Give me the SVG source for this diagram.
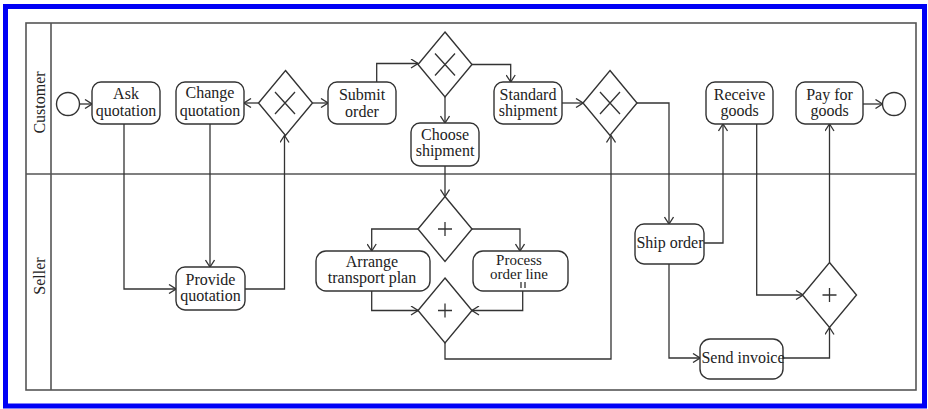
<svg xmlns="http://www.w3.org/2000/svg" width="928" height="409" viewBox="0 0 928 409">
  <style>
    .pool { fill: none; stroke: #555; stroke-width: 1.6; }
    .task { fill: #fff; stroke: #333; stroke-width: 1.4; }
    .gw { fill: #fff; stroke: #333; stroke-width: 1.4; }
    .mark { fill: none; stroke: #333; stroke-width: 1.3; }
    .ev { fill: #fff; stroke: #333; stroke-width: 1.4; }
    .flow { fill: none; stroke: #333; stroke-width: 1.3; marker-end: url(#arrow); }
    text { font-family: "Liberation Serif", "Times New Roman", serif; font-size: 16px; fill: #222; text-anchor: middle; }
    .tight { font-size: 15px; }
  </style>
  <defs>
    <marker id="arrow" viewBox="0 0 9 10" refX="8" refY="5" markerWidth="9" markerHeight="10" markerUnits="userSpaceOnUse" orient="auto">
      <path d="M1,0.5 L8,5 L1,9.5" fill="none" stroke="#333" stroke-width="1.3"/>
    </marker>
  </defs>

  <rect x="0" y="0" width="928" height="409" fill="#fff"/>
  <!-- outer frame -->
  <rect x="5.5" y="6.5" width="919" height="399.5" fill="none" stroke="#0000f5" stroke-width="5"/>

  <!-- pool and lanes -->
  <g id="pool">
    <rect class="pool" x="26" y="23" width="890" height="367"/>
    <line class="pool" x1="51" y1="23" x2="51" y2="390"/>
    <line class="pool" x1="26" y1="174" x2="916" y2="174"/>
    <text transform="translate(45,102.5) rotate(-90)">Customer</text>
    <text transform="translate(45,276) rotate(-90)">Seller</text>
  </g>

  <!-- sequence flows -->
  <g id="connectors">
    <polyline class="flow" points="79.5,104 92,104"/>
    <polyline class="flow" points="124,124 124,289 176,289"/>
    <polyline class="flow" points="210,124 210,267"/>
    <polyline class="flow" points="245,289 284.5,289 284.5,135.5"/>
    <polyline class="flow" points="258.5,103 244,103"/>
    <polyline class="flow" points="312.5,103 328,103"/>
    <polyline class="flow" points="376.7,82 376.7,63.5 418,63.5"/>
    <polyline class="flow" points="445,97 445,123"/>
    <polyline class="flow" points="472,64.5 510.7,64.5 510.7,82"/>
    <polyline class="flow" points="562,103 583,103"/>
    <polyline class="flow" points="445,166 445,196.5"/>
    <polyline class="flow" points="418,229 371.7,229 371.7,251"/>
    <polyline class="flow" points="472,229 520,229 520,251"/>
    <polyline class="flow" points="371.7,291 371.7,310.5 418,310.5"/>
    <polyline class="flow" points="522.7,291 522.7,310.5 472,310.5"/>
    <polyline class="flow" points="445,343 445,359 611,359 611,135.5"/>
    <polyline class="flow" points="637,103 669,103 669,224"/>
    <polyline class="flow" points="704,243 723,243 723,124"/>
    <polyline class="flow" points="756.7,124 756.7,295 803,295"/>
    <polyline class="flow" points="669,264 669,358 700,358"/>
    <polyline class="flow" points="783,358 829.5,358 829.5,327.5"/>
    <polyline class="flow" points="829.5,262.5 829.5,124"/>
    <polyline class="flow" points="863,104 882.5,104"/>
  </g>

  <!-- customer lane -->
  <g id="start">
    <circle class="ev" cx="68" cy="104" r="11.5"/>
  </g>
  <g id="ask-quotation">
    <rect class="task" x="92" y="82" width="68" height="42" rx="9"/>
    <text x="126" y="99">Ask</text>
    <text x="126" y="115.5">quotation</text>
  </g>
  <g id="change-quotation">
    <rect class="task" x="176" y="82" width="68" height="42" rx="9"/>
    <text x="210" y="97.5">Change</text>
    <text x="210" y="115.5">quotation</text>
  </g>
  <g id="xor-quotation">
    <polygon class="gw" points="285.5,70.5 312.5,103 285.5,135.5 258.5,103"/>
    <path class="mark" d="M275,92 L295,114 M295,92 L275,114"/>
  </g>
  <g id="submit-order">
    <rect class="task" x="328" y="82" width="68" height="42" rx="9"/>
    <text x="362" y="100">Submit</text>
    <text x="362" y="116.5">order</text>
  </g>
  <g id="xor-shipment">
    <polygon class="gw" points="445,32 472,64.5 445,97 418,64.5"/>
    <path class="mark" d="M435,53.5 L455,75.5 M455,53.5 L435,75.5"/>
  </g>
  <g id="choose-shipment">
    <rect class="task" x="411" y="123" width="68" height="43" rx="9"/>
    <text x="445" y="140">Choose</text>
    <text x="445" y="155.5">shipment</text>
  </g>
  <g id="standard-shipment">
    <rect class="task" x="494" y="82" width="68" height="42" rx="9"/>
    <text x="528" y="100">Standard</text>
    <text x="528" y="116">shipment</text>
  </g>
  <g id="xor-merge">
    <polygon class="gw" points="610,70.5 637,103 610,135.5 583,103"/>
    <path class="mark" d="M600,92 L620,114 M620,92 L600,114"/>
  </g>
  <g id="receive-goods">
    <rect class="task" x="706" y="82" width="67" height="42" rx="9"/>
    <text x="739.5" y="100">Receive</text>
    <text x="739.5" y="115.5">goods</text>
  </g>
  <g id="pay-for-goods">
    <rect class="task" x="796" y="82" width="67" height="42" rx="9"/>
    <text x="829.5" y="100">Pay for</text>
    <text x="829.5" y="115.5">goods</text>
  </g>
  <g id="end">
    <circle class="ev" cx="894" cy="104" r="11.5"/>
  </g>

  <!-- seller lane -->
  <g id="provide-quotation">
    <rect class="task" x="176" y="267" width="69" height="43" rx="9"/>
    <text x="210.5" y="285">Provide</text>
    <text x="210.5" y="301">quotation</text>
  </g>
  <g id="and-split">
    <polygon class="gw" points="445,196.5 472,229 445,261.5 418,229"/>
    <path class="mark" d="M438,229 L452,229 M445,222 L445,236"/>
  </g>
  <g id="arrange-transport-plan">
    <rect class="task" x="316" y="251" width="114" height="40" rx="10"/>
    <text x="372" y="267">Arrange</text>
    <text x="372" y="283">transport plan</text>
  </g>
  <g id="process-order-line">
    <rect class="task" x="473" y="251" width="95" height="40" rx="10"/>
    <text class="tight" x="519" y="264.5">Process</text>
    <text class="tight" x="519" y="279">order line</text>
    <path class="mark" d="M521,282 L521,288 M525,282 L525,288" stroke-width="1"/>
  </g>
  <g id="and-join">
    <polygon class="gw" points="445,278 472,310.5 445,343 418,310.5"/>
    <path class="mark" d="M438,310.5 L452,310.5 M445,303.5 L445,317.5"/>
  </g>
  <g id="ship-order">
    <rect class="task" x="635" y="224" width="69" height="40" rx="9"/>
    <text x="670" y="248">Ship order</text>
  </g>
  <g id="send-invoice">
    <rect class="task" x="700" y="339" width="83" height="40" rx="10"/>
    <text x="743" y="363">Send invoice</text>
  </g>
  <g id="and-goods">
    <polygon class="gw" points="829.5,262.5 856.5,295 829.5,327.5 802.5,295"/>
    <path class="mark" d="M822.5,295 L836.5,295 M829.5,288 L829.5,302"/>
  </g>
</svg>
